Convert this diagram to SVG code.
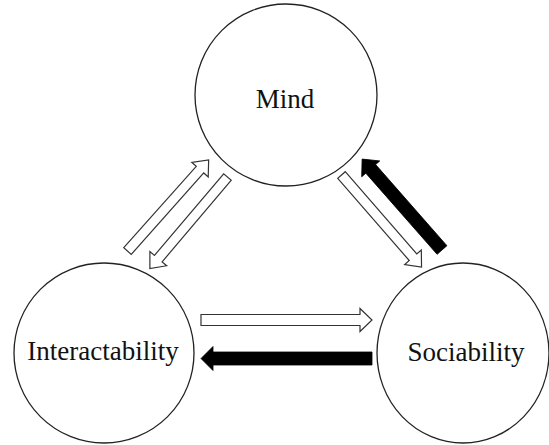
<svg xmlns="http://www.w3.org/2000/svg" width="549" height="445" viewBox="0 0 549 445">
  <defs>
    <style>
      .node { fill: #ffffff; stroke: #222222; stroke-width: 1.3; }
      .label { font-family: "Liberation Serif", "Times New Roman", serif; font-size: 27px; fill: #111111; text-anchor: middle; }
      .hollow { fill: #ffffff; stroke: #333333; stroke-width: 1.2; stroke-linejoin: miter; }
      .solid { fill: #000000; stroke: #000000; stroke-width: 0.8; }
    </style>
  </defs>
  <rect width="549" height="445" fill="#ffffff"/>

  <g id="node-mind">
    <circle class="node" cx="286" cy="95" r="91"/>
    <text class="label" x="285" y="108">Mind</text>
  </g>

  <g id="node-interactability">
    <circle class="node" cx="104" cy="353" r="90"/>
    <text class="label" x="103" y="360">Interactability</text>
  </g>

  <g id="node-sociability">
    <ellipse class="node" cx="463" cy="353" rx="86" ry="90"/>
    <text class="label" x="466" y="361">Sociability</text>
  </g>

  <g id="connectors">
    <!-- Interactability -> Mind -->
    <path class="hollow" transform="translate(127.5,251) rotate(-48.3)" d="M0,-5 H109 V-11 L122,0 L109,11 V5 H0 Z"/>
    <!-- Mind -> Interactability -->
    <path class="hollow" transform="translate(227.5,177) rotate(130.3)" d="M0,-5 H107 V-11 L120,0 L107,11 V5 H0 Z"/>
    <!-- Mind -> Sociability -->
    <path class="hollow" transform="translate(341.5,175) rotate(49)" d="M0,-5 H109 V-11 L122,0 L109,11 V5 H0 Z"/>
    <!-- Sociability -> Mind -->
    <path class="solid" transform="translate(442,250) rotate(-131.3)" d="M0,-6.5 H108 V-12 L121,0 L108,12 V6.5 H0 Z"/>
    <!-- Interactability -> Sociability -->
    <path class="hollow" transform="translate(201,320)" d="M0,-5.5 H159 V-11.5 L171,0 L159,11.5 V5.5 H0 Z"/>
    <!-- Sociability -> Interactability -->
    <path class="solid" transform="translate(372,358.5) rotate(180)" d="M0,-6.5 H159 V-12 L171,0 L159,12 V6.5 H0 Z"/>
  </g>
</svg>
